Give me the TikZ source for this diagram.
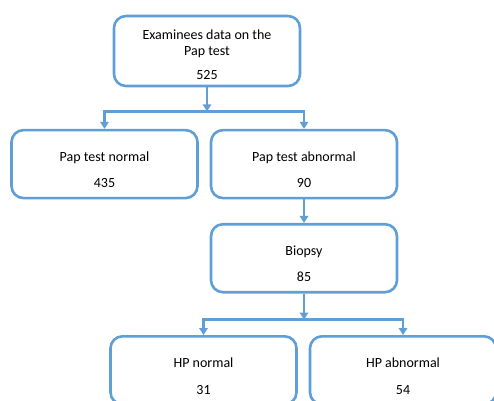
\documentclass[tikz,border=0pt]{standalone}
\usepackage{fontspec}
\setmainfont{Carlito}
\usetikzlibrary{arrows.meta,positioning,calc}
\definecolor{flowblue}{RGB}{95,158,214}
\newcommand{\toppad}{\rule{0pt}{21pt}}

\begin{document}
\begin{tikzpicture}[x=1pt, y=1pt, >={Triangle[length=7pt,width=8.5pt]},
      font=\fontsize{14}{16}\selectfont,
      box/.style={draw=flowblue, line width=2.6pt, rounded corners=12pt,
                  minimum width=186pt, minimum height=68pt, align=center,
                  fill=white},
      link/.style={draw=flowblue, line width=2.6pt},
      arr/.style={link, ->}
    ]
    \useasboundingbox (0,0) rectangle (494,-400);

    \node[box, minimum height=70pt] (exam) at (207,-51)
          {\rule{0pt}{18pt}Examinees data on the\\Pap test\\[8pt]525};

    \node[box, below=41.5pt of exam, xshift=-102.5pt] (papnorm)
          {\toppad Pap test normal\\[10.5pt]435};
    \node[box, below=41.5pt of exam, xshift=97pt] (papabn)
          {\toppad Pap test abnormal\\[10.5pt]90};

    \coordinate (split1) at ($(exam.south)+(0,-24)$);
    \draw[arr] (exam.south) -- (split1);
    \draw[arr] (split1) -| (papnorm.north);
    \draw[arr] (split1) -| (papabn.north);

    \node[box, below=23.5pt of papabn] (biopsy) {\toppad Biopsy\\[10.5pt]85};
    \draw[arr] (papabn) -- (biopsy);

    \node[box, below=41.5pt of biopsy, xshift=-100.5pt] (hpnorm)
          {\toppad HP normal\\[10.5pt]31};
    \node[box, below=41.5pt of biopsy, xshift=99pt] (hpabn)
          {\toppad HP abnormal\\[10.5pt]54};

    \coordinate (split2) at ($(biopsy.south)+(0,-26)$);
    \draw[arr] (biopsy.south) -- (split2);
    \draw[arr] (split2) -| (hpnorm.north);
    \draw[arr] (split2) -| (hpabn.north);
  \end{tikzpicture}
\end{document}
